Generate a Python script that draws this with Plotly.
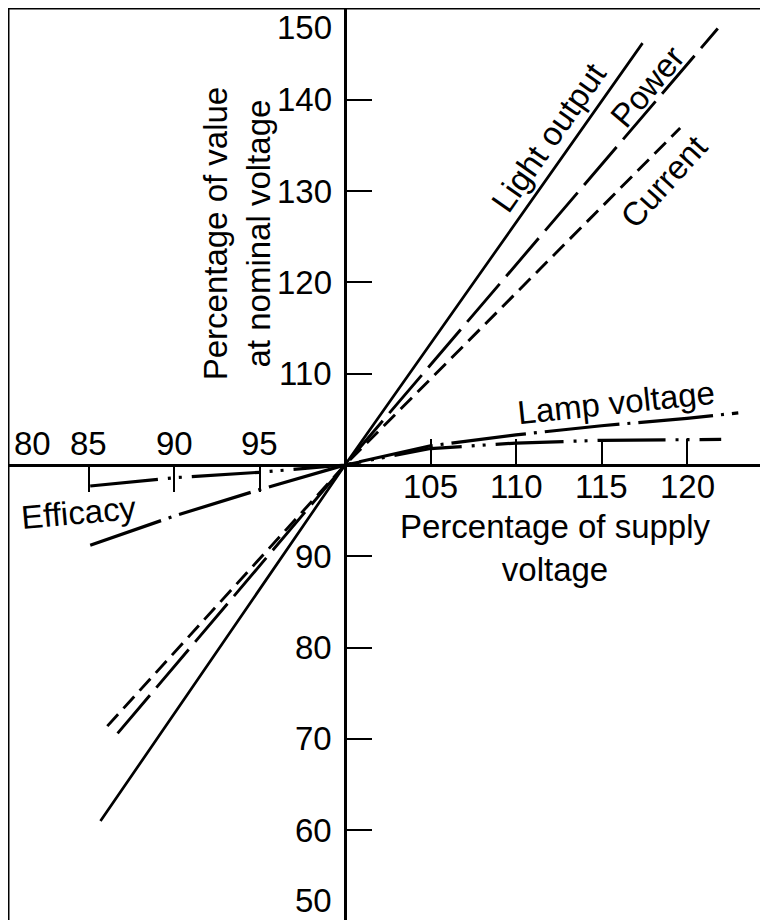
import plotly.graph_objects as go

# ---- data ----
light_x = [85.7, 100, 117.4]
light_y = [61.0, 100, 146.2]

power_x = [86.7, 100, 121.8]
power_y = [70.6, 100, 147.8]

current_x = [86.1, 100, 119.6]
current_y = [71.4, 100, 136.9]

lampv_x = [85.1, 90, 95, 100, 105, 110, 115, 122]
lampv_y = [97.7, 98.6, 99.2, 100, 101.8, 102.4, 102.7, 102.8]

eff_x = [85.1, 90, 95, 100, 105, 110, 115, 120, 123]
eff_y = [91.2, 94.4, 97.3, 100, 102.1, 103.3, 104.3, 105.1, 105.7]

x_ticks_right = [105, 110, 115, 120]
x_ticks_left = [85, 90, 95]
x_edge_label = 80
y_ticks = [60, 70, 80, 90, 110, 120, 130, 140]
y_edge_top = 150
y_edge_bottom = 50

# ---- geometry ----
X0, X1 = 80.292, 124.737
Y0, Y1 = 50.164, 150.05
xpos = (100 - Y0) / (Y1 - Y0)
ypos = (100 - X0) / (X1 - X0)

def xfrac(v):
    return (v - X0) / (X1 - X0)

def yfrac(v):
    return (v - Y0) / (Y1 - Y0)

FONT = "Liberation Sans, Arial, Helvetica, sans-serif"
FS = 33

fig = go.Figure()

def add_line(x, y, dash, width, name):
    fig.add_trace(go.Scatter(x=x, y=y, mode="lines", name=name,
                             line=dict(color="black", width=width, dash=dash),
                             showlegend=False, hoverinfo="skip"))

add_line(light_x, light_y, "solid", 2.7, "Light output")
add_line(power_x, power_y, "50px,10px", 2.9, "Power")
add_line(current_x, current_y, "16px,8px", 2.9, "Current")
add_line(lampv_x, lampv_y, "68px,10px,3px,8px,3px,10px", 3.2, "Lamp voltage")
add_line(eff_x, eff_y, "75px,8px,3px,8px", 3.2, "Efficacy")

# dummy trace so that the second x axis (left-side ticks) is drawn
fig.add_trace(go.Scatter(x=[None], y=[None], xaxis="x2", showlegend=False, hoverinfo="skip"))

axis_common = dict(showgrid=False, zeroline=False, showline=True, linecolor="black",
                   linewidth=2.5, ticks="inside", ticklen=25, tickwidth=1.5,
                   tickcolor="black", showticklabels=False, fixedrange=True)

fig.update_layout(
    width=760, height=912,
    margin=dict(l=0, r=0, t=0, b=0),
    paper_bgcolor="white", plot_bgcolor="white",
    xaxis=dict(range=[X0, X1], anchor="free", position=xpos, side="bottom",
               tickvals=x_ticks_right, **axis_common),
    xaxis2=dict(range=[X0, X1], anchor="free", position=xpos, side="top", overlaying="x",
                tickvals=x_ticks_left, **axis_common),
    yaxis=dict(range=[Y0, Y1], anchor="free", position=ypos, side="left",
               tickvals=y_ticks, **axis_common),
)

# frame (left and top borders)
fig.add_shape(type="line", xref="paper", yref="paper", x0=0, x1=0, y0=0, y1=1,
              line=dict(color="black", width=3))
fig.add_shape(type="line", xref="paper", yref="paper", x0=0, x1=1, y0=1, y1=1,
              line=dict(color="black", width=3))

tf = dict(family=FONT, size=FS, color="black")

def ann(text, x, y, angle=0, **kw):
    fig.add_annotation(text=text, x=x, y=y, xref="x", yref="y", showarrow=False,
                       textangle=angle, font=tf, **kw)

def ann_paper(text, x, y, xanchor="center", yanchor="middle", **kw):
    fig.add_annotation(text=text, x=x, y=y, xref="paper", yref="paper", showarrow=False,
                       xanchor=xanchor, yanchor=yanchor, font=tf, **kw)

# tick labels
for v in x_ticks_right:
    ann(str(v), v, 100, yshift=-22)
for v in x_ticks_left:
    ann(str(v), v, 100, yshift=21)
for v in y_ticks:
    ann(str(v), 100, v, xanchor="right", xshift=-11)
ann_paper(str(x_edge_label), xfrac(x_edge_label), yfrac(100), xshift=29, yshift=21)
ann(str(y_edge_top), 100, y_edge_top, xanchor="right", xshift=-11, yshift=-19)
ann_paper(str(y_edge_bottom), xfrac(100), yfrac(y_edge_bottom), xanchor="right",
          xshift=-11, yshift=21)

# series labels
ann("Light output", 111.9, 135.9, -55)
ann("Power", 117.7, 141.4, -50)
ann("Current", 118.65, 131.0, -48)
ann("Lamp voltage", 115.85, 106.8, -6)
ann("Efficacy", 84.4, 94.85, -5)

# axis titles
ann("Percentage of supply<br>voltage", 112.3, 90.9)
ann("Percentage of value<br>at nominal voltage", 93.7, 125.4, -90)

fig.write_html("out.html")
